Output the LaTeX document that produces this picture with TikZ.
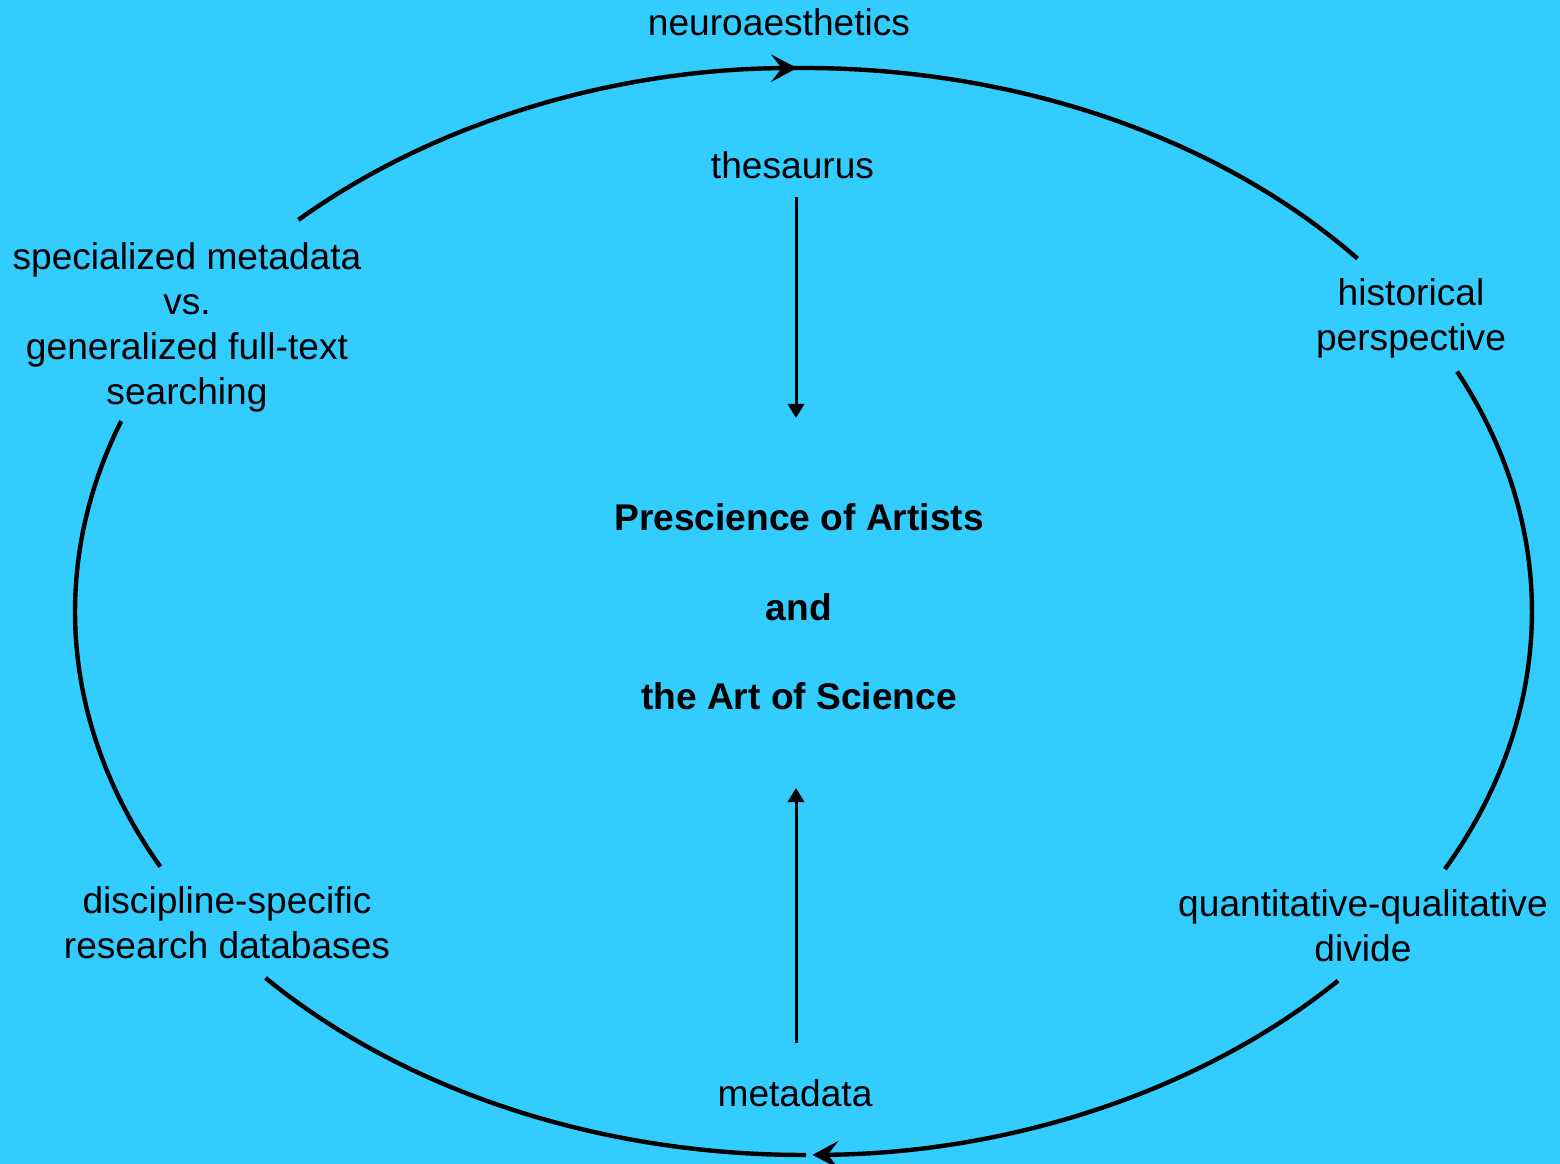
\documentclass[tikz,border=0pt]{standalone}
\usepackage{fontspec}
\setmainfont{Liberation Sans}
\usetikzlibrary{arrows.meta}
\definecolor{skyback}{HTML}{33CCFF}
\tikzset{
	lbl/.style={align=center,anchor=base,font=\fontsize{10.56pt}{12.8pt}\selectfont},
	cyc/.style={line width=1.25pt},
	cyctip/.style={-{Stealth[length=7.4pt,width=7.8pt,inset=3pt]}},
	feed/.style={line width=0.85pt,-{Triangle[length=4pt,width=4.6pt]}},
}
\begin{document}
\begin{tikzpicture}[x=0.01cm,y=0.01cm]
			\fill[skyback] (0,0) rectangle (1560,1164);
			\useasboundingbox (0,0) rectangle (1560,1164);
			\coordinate (c) at (803.5,552.5);
			\node[lbl] (neuro) at (779,1128.5) {neuroaesthetics};
			\node[lbl] (thes) at (792.5,985) {thesaurus};
			\node[lbl] (spec) at (187,759) {specialized metadata\\vs.\\generalized full-text\\searching};
			\node[lbl] (hist) at (1411,813) {historical\\perspective};
			\node[lbl] (disc) at (227,205) {discipline-specific\\research databases};
			\node[lbl] (quant) at (1363,202) {quantitative-qualitative\\divide};
			\node[lbl] (meta) at (795,57) {metadata};
			\node[align=center,anchor=base,font=\fontsize{10.56pt}{25.5pt}\selectfont\bfseries] (core) at (799,454) {Prescience of Artists\\and\\the Art of Science};
			\draw[cyc,cyctip] (c) ++(133.9:728.5 and 543.5) arc[start angle=133.9,end angle=90.5,x radius=728.5,y radius=543.5];
			\draw[cyc] (c) ++(91:728.5 and 543.5) arc[start angle=91,end angle=40.5,x radius=728.5,y radius=543.5];
			\draw[cyc] (c) ++(26.2:728.5 and 543.5) arc[start angle=26.2,end angle=-28.3,x radius=728.5,y radius=543.5];
			\draw[cyc,cyctip] (c) ++(-42.8:728.5 and 543.5) arc[start angle=-42.8,end angle=-89.3,x radius=728.5,y radius=543.5];
			\draw[cyc] (c) ++(-89.8:728.5 and 543.5) arc[start angle=-89.8,end angle=-137.6,x radius=728.5,y radius=543.5];
			\draw[cyc] (c) ++(-152:728.5 and 543.5) arc[start angle=-152,end angle=-200.5,x radius=728.5,y radius=543.5];
			\coordinate (t1) at (796,967);
			\coordinate (t2) at (796,746);
			\coordinate (m1) at (796,121);
			\coordinate (m2) at (796,376);
			\draw[feed] (t1) -- (t2);
			\draw[feed] (m1) -- (m2);
		\end{tikzpicture}
\end{document}
